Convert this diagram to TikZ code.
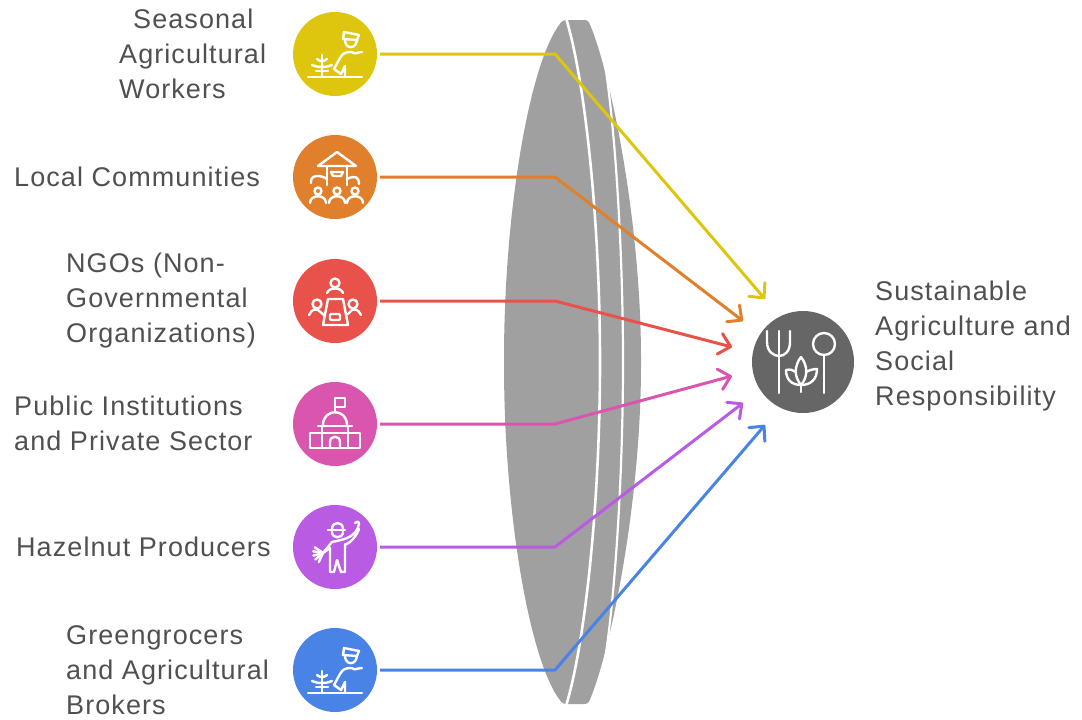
\documentclass[tikz,border=0pt]{standalone}
\usepackage{fontspec}
\setmainfont[LetterSpace=4]{Liberation Sans}
\usetikzlibrary{arrows.meta}
\definecolor{cyellow}{HTML}{DEC60F}
\definecolor{corange}{HTML}{E0802C}
\definecolor{cred}{HTML}{E8524A}
\definecolor{cpink}{HTML}{DA55AE}
\definecolor{cpurple}{HTML}{B95BE3}
\definecolor{cblue}{HTML}{4A83E6}
\definecolor{clens}{HTML}{A0A0A0}
\definecolor{cdark}{HTML}{666666}
\definecolor{ctext}{HTML}{505050}
\tikzset{
	disc/.style={circle, minimum size=84pt, inner sep=0pt},
	label/.style={anchor=west, inner sep=0pt, align=left, text=ctext, font=\fontsize{27}{35}\selectfont},
	link/.style={line width=3pt, line join=round, -{Straight Barb[length=11pt, width=21pt, line width=3pt, round]}},
	icon/.style={white, line width=2.4pt, line cap=round, line join=round},
	pics/farmer/.style={code={
		\draw[icon] (-27,23) -- (27,23);
		\draw[icon] (-13,1) -- (-13,23);
		\draw[icon] (-18,5) .. controls (-15,7) .. (-13,7) .. controls (-11,7) .. (-8,5);
		\draw[icon] (-23,11) .. controls (-17,13) .. (-13,13) .. controls (-9,13) .. (-3,11);
		\draw[icon] (-19,17) -- (-7,17);
		\draw[icon] (9,-22) -- (24,-19) -- (22,-14) -- (8,-15) -- cycle;
		\draw[icon] (10,-14) .. controls (10,-5) and (21,-4) .. (22,-14);
		\draw[icon] (17,-2) .. controls (10,-2) and (8,-1) .. (5,4) -- (-1,15) -- (6,20) -- (10,12) -- (10,23);
		\draw[icon] (17,-2) .. controls (20,1) and (22,-2) .. (27,-2);
	}},
	pics/village/.style={code={
		\draw[icon] (-17,-11) -- (2,-25) -- (21,-11) -- cycle;
		\draw[icon] (-8,-11) -- (-8,8) (12,-11) -- (12,8);
		\draw[icon] (-4,-5) -- (8,-5) -- (6,-1) -- (-2,-1) -- cycle;
		\draw[icon] (-8,2) .. controls (-16,-3) and (-25,-2) .. (-24,6);
		\draw[icon] (12,2) .. controls (20,-2) and (24,0) .. (24,7);
		\foreach \x in {-17,2,20} {
			\draw[icon] (\x,14) circle [radius=3.5];
			\draw[icon] (\x-8,26) .. controls (\x-8,17) and (\x+8,17) .. (\x+8,26);
		}
	}},
	pics/meeting/.style={code={
		\draw[icon] (-7,-2) -- (8,-2) -- (13,24) -- (-12,24) -- cycle;
		\draw[icon, rounded corners=1pt] (-5,13) rectangle (5,19);
		\draw[icon] (0,-18) circle [radius=4.5];
		\draw[icon] (-8,-8) .. controls (-6,-14) and (6,-14) .. (8,-8);
		\draw[icon] (-18,3) circle [radius=4.5];
		\draw[icon] (18,3) circle [radius=4.5];
		\draw[icon] (-26,14) .. controls (-23,8) and (-20,8) .. (-17,9) -- (-11,14);
		\draw[icon] (26,14) .. controls (23,8) and (20,8) .. (17,9) -- (13,13);
	}},
	pics/capitol/.style={code={
		\draw[icon] (0,-12) -- (0,-26) -- (10,-26) -- (10,-17) -- (0,-17);
		\draw[icon] (-12,1) .. controls (-12,-16) and (12,-16) .. (12,1);
		\draw[icon] (-17,2) -- (17,2);
		\draw[icon] (-13,2) -- (-13,24) (13,2) -- (13,24);
		\draw[icon] (-25,9) rectangle (25,24);
		\draw[icon] (-5,24) -- (-5,18) .. controls (-5,11) and (5,11) .. (5,18) -- (5,24);
	}},
	pics/picker/.style={code={
		\draw[icon] (-7,-17) -- (10,-17);
		\draw[icon] (-3,-18) .. controls (-3,-26) and (8,-26) .. (8,-18);
		\draw[icon] (-3,-15) .. controls (-3,-8) and (8,-8) .. (8,-15);
		\draw[icon] (6,-7) .. controls (14,-9) and (22,-13) .. (24,-23) .. controls (24,-26) and (21,-26) .. (20,-24);
		\draw[icon] (10,-2) .. controls (17,-5) and (22,-12) .. (24,-18);
		\draw[icon] (-3,-5) -- (-12,6) -- (-5,1) -- (-5,25) -- (-1,25) -- (2,13) -- (6,25) -- (10,25) -- (10,-3);
		\draw[icon] (-3,-5) -- (6,-7);
		\foreach \a in {115,140,165,190,215}
			\draw[icon] (-12,6) -- +(\a:10);
	}},
	pics/fork/.style={code={
		\draw[icon] (-36,-31) -- (-36,-20) .. controls (-36,-11) and (-30,-6) .. (-24,-6) .. controls (-18,-6) and (-13,-11) .. (-13,-20) -- (-13,-31);
		\draw[icon] (-24,-31) -- (-24,31);
		\draw[icon] (21,-18) circle [radius=11];
		\draw[icon] (21,-7) -- (21,31);
		\draw[icon] (-2,23) .. controls (-9,15) and (-9,4) .. (-2,-5) .. controls (5,4) and (5,15) .. (-2,23);
		\draw[icon] (-2,23) .. controls (-12,23) and (-17,17) .. (-17,8) .. controls (-13,7) and (-10,8) .. (-7,10);
		\draw[icon] (-2,23) .. controls (8,23) and (14,17) .. (14,7) .. controls (10,7) and (7,8) .. (3,10);
		\draw[icon] (-2,23) -- (-2,30);
	}}
}
\begin{document}
\begin{tikzpicture}[x=1pt, y=-1pt]
	\useasboundingbox (0,0) rectangle (1082,720);
	% lens
	\fill[clens, rounded corners=3pt] (563,20) .. controls (530,60) and (504,210) .. (504,362)
		.. controls (504,514) and (530,664) .. (563,704) -- (588,704)
		.. controls (610,654) and (641,504) .. (641,362)
		.. controls (641,220) and (610,70) .. (588,20) -- cycle;
	\draw[white, line width=2.6pt] (566,18) .. controls (585,80) and (600,220) .. (600,362)
		.. controls (600,504) and (585,644) .. (566,706);
	\draw[white, line width=2.2pt] (603,52) .. controls (615,120) and (623,250) .. (623,362)
		.. controls (623,474) and (615,604) .. (603,672);
	% discs
	\foreach \name/\col/\y/\art in {seasonal/cyellow/54/farmer, local/corange/177/village, ngos/cred/301/meeting, public/cpink/424/capitol, hazelnut/cpurple/547/picker, green/cblue/670/farmer} {
		\node[disc, fill=\col] (\name) at (335,\y) {};
		\pic at (\name.center) {\art};
	}
	\node[disc, fill=cdark, minimum size=102pt] (sust) at (803,362) {};
	\pic at (sust.center) {fork};
	% free ends of the connectors
	\foreach \name/\xend/\yend in {seasonal/765/299, local/743/321, ngos/732/347, public/732/376, hazelnut/743/403, green/765/425}
		\coordinate (\name end) at (\xend,\yend);
	\foreach \name/\col/\y in {seasonal/cyellow/54, local/corange/177, ngos/cred/301, public/cpink/424, hazelnut/cpurple/547, green/cblue/670}
		\draw[link, \col] (\name.east) ++(3,0) -- (555,\y) -- (\name end);
	% labels
	\node[label] (seasonaltext) at (119,54) {\hspace*{14pt}Seasonal\\Agricultural\\Workers};
	\node[label] (localtext) at (14,177) {Local Communities};
	\node[label] (ngostext) at (66,301) {NGOs (Non-\\Governmental\\Organizations)};
	\node[label] (publictext) at (14,423) {Public Institutions\\and Private Sector};
	\node[label] (hazelnuttext) at (16,547) {Hazelnut Producers};
	\node[label] (greentext) at (66,670) {Greengrocers\\and Agricultural\\Brokers};
	\node[label] (susttext) at (875,346) {Sustainable\\Agriculture and\\Social\\Responsibility};
\end{tikzpicture}
\end{document}
